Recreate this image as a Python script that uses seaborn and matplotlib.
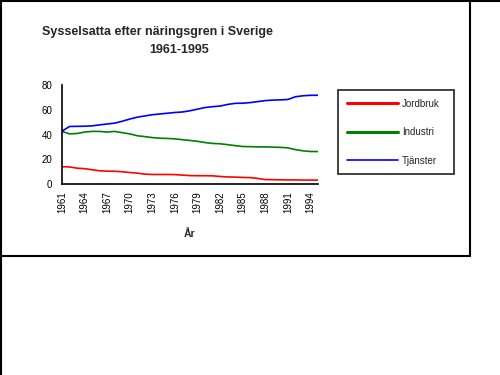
#!/usr/bin/env python3
"""
Sysselsatta efter näringsgren i Sverige 1961-1995 (line chart, seaborn).
"""

import matplotlib
matplotlib.use('Agg')
import matplotlib.pyplot as plt
from matplotlib.lines import Line2D
import pandas as pd
import seaborn as sns

years = list(range(1961, 1996))
jordbruk = [14.0, 13.8, 12.8, 12.4, 11.5, 10.7, 10.4, 10.3, 9.9, 9.3,
            8.8, 8.0, 7.7, 7.7, 7.7, 7.6, 7.2, 6.8, 6.7, 6.7,
            6.6, 6.1, 5.7, 5.6, 5.3, 5.2, 4.5, 3.6, 3.5, 3.4,
            3.3, 3.3, 3.2, 3.2, 3.2]
industri = [42.5, 40.5, 40.8, 42.0, 42.5, 42.5, 42.0, 42.5, 41.5, 40.5,
            39.0, 38.3, 37.5, 37.0, 36.8, 36.5, 35.8, 35.2, 34.5, 33.5,
            32.8, 32.5, 31.8, 31.0, 30.3, 30.2, 30.0, 30.0, 29.8, 29.6,
            29.2, 27.8, 26.8, 26.3, 26.2]
tjanster = [42.7, 46.5, 46.6, 46.7, 47.0, 47.8, 48.5, 49.2, 50.7, 52.5,
            54.0, 55.0, 56.0, 56.6, 57.2, 57.8, 58.2, 59.2, 60.5, 61.8,
            62.5, 63.0, 64.3, 65.2, 65.3, 65.8, 66.6, 67.4, 67.8, 68.0,
            68.3, 70.5, 71.3, 71.7, 71.7]
series_names = ['Jordbruk', 'Industri', 'Tjänster']
series_colors = ['#FF0000', '#008000', '#0000FF']
ytick_values = [0, 20, 40, 60, 80]
xtick_labels = list(range(1961, 1996, 3))


def main():
    sns.set_style('white')
    plt.rcParams['font.family'] = ['Liberation Sans', 'DejaVu Sans']

    df = pd.DataFrame({'År': years, 'Jordbruk': jordbruk,
                       'Industri': industri, 'Tjänster': tjanster})
    long_df = df.melt(id_vars='År', var_name='serie', value_name='andel')

    fig = plt.figure(figsize=(5, 3.75), dpi=100)
    ax = fig.add_axes([0.124, 0.5093, 0.512, 0.264])

    sns.lineplot(data=long_df, x='År', y='andel', hue='serie',
                 hue_order=series_names,
                 palette=dict(zip(series_names, series_colors)),
                 linewidth=1.2, ax=ax, legend=False)

    ax.set_xlim(1961, 1995)
    ax.set_ylim(0, 80)
    ax.set_yticks(ytick_values)
    ax.set_xticks(years, minor=False)
    ax.set_xticklabels([str(y) if y in xtick_labels else '' for y in years],
                       rotation=90, fontsize=7)
    ax.tick_params(axis='x', direction='inout', length=6, width=1,
                   pad=2, colors='black')
    ax.tick_params(axis='y', direction='out', length=4, width=1,
                   labelsize=7, pad=3, colors='black')
    for side in ['top', 'right']:
        ax.spines[side].set_visible(False)
    for side in ['left', 'bottom']:
        ax.spines[side].set_color('black')
        ax.spines[side].set_linewidth(1.2)
    ax.set_ylabel('')
    ax.set_xlabel('År', fontsize=7.5, fontweight='bold', va='top')
    ax.xaxis.set_label_coords(0.5, -0.45)

    handles = [Line2D([0], [0], color=c, linewidth=lw)
               for c, lw in zip(series_colors, [2.2, 2.2, 1.2])]
    leg = ax.legend(handles, series_names, loc='upper left',
                    bbox_to_anchor=(0.676, 0.52, 0.232, 0.24),
                    bbox_transform=fig.transFigure, mode='expand',
                    fontsize=7, frameon=True, fancybox=False,
                    handlelength=5.3, handletextpad=0.4,
                    labelspacing=1.9, borderpad=0.9, borderaxespad=0)
    leg.get_frame().set_edgecolor('black')
    leg.get_frame().set_linewidth(1.3)

    fig.text(0.314, 0.915, 'Sysselsatta efter näringsgren i Sverige',
             ha='center', va='center', fontsize=9, fontweight='bold')
    fig.text(0.358, 0.867, '1961-1995', ha='center', va='center',
             fontsize=9, fontweight='bold')

    # outer frame of the chart area
    frame_kw = dict(color='black', linewidth=1.5, transform=fig.transFigure)
    fig.add_artist(Line2D([0.002, 0.002], [0, 1], **frame_kw))
    fig.add_artist(Line2D([0, 1], [0.998, 0.998], **frame_kw))
    fig.add_artist(Line2D([0.94, 0.94], [0.317, 1], **frame_kw))
    fig.add_artist(Line2D([0, 0.94], [0.317, 0.317], **frame_kw))

    fig.savefig('out.png', dpi=100, facecolor='white')


if __name__ == '__main__':
    main()
